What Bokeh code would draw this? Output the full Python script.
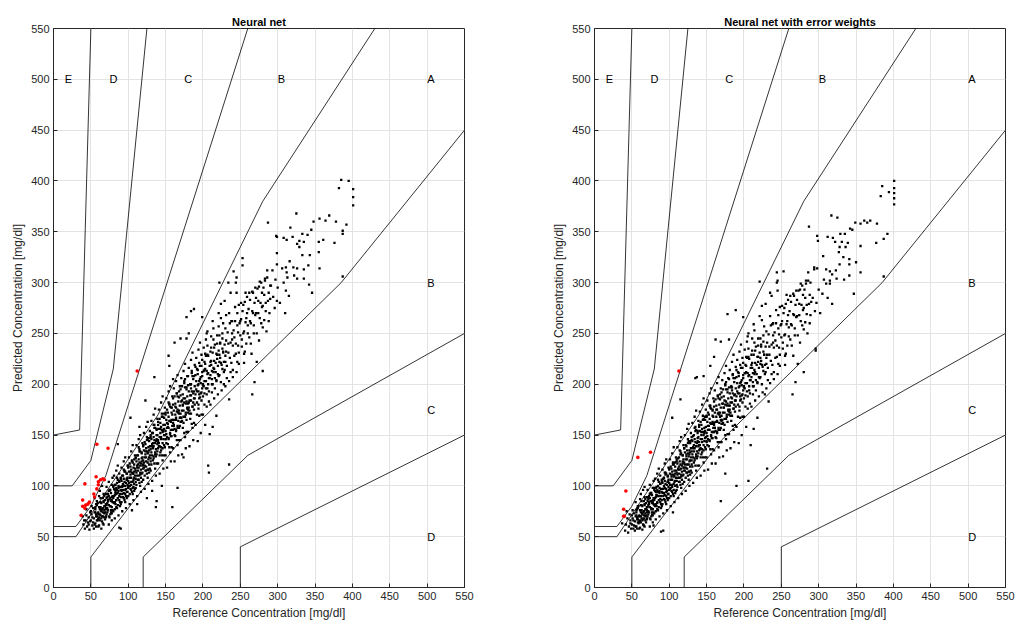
from bokeh.plotting import figure
from bokeh.layouts import row
from bokeh.models import Range1d, FixedTicker, ColumnDataSource
from bokeh.embed import file_html
from bokeh.resources import INLINE
from bokeh.core.properties import value

# ---------------- data ----------------
ticks = [0, 50, 100, 150, 200, 250, 300, 350, 400, 450, 500, 550]

# Parkes (consensus) error grid boundaries, type 1
zone_x = [
    [0, 50, 50, 170, 385, 550],
    [0, 30, 140, 280, 430],
    [120, 120, 260, 550],
    [0, 30, 50, 70, 260],
    [250, 250, 550],
    [0, 25, 50, 80, 125],
    [0, 35, 50],
]
zone_y = [
    [0, 0, 30, 145, 300, 450],
    [50, 50, 170, 380, 550],
    [0, 30, 130, 250],
    [60, 60, 80, 110, 550],
    [0, 40, 150],
    [100, 100, 125, 215, 550],
    [150, 155, 550],
]
zone_labels = ["A", "B", "B", "C", "C", "D", "D", "E"]
zone_label_x = [500, 300, 500, 175, 500, 75, 500, 15]
zone_label_y = [500, 500, 300, 500, 175, 500, 50, 500]

titles = ["Neural net", "Neural net with error weights"]

# red points (predictions above the B zone), panel 1 and 2
nn_red = [(112,213),(58,141),(73,137),(42,102),(57,109),(60,104),(63,106),(66,107),(68,106),
          (39,86),(39,80),(42,78),(46,82),(48,84),(54,92),(58,97),(60,101),(37,71),(43,81),(55,89)]
ew_red = [(113,213),(75,133),(58,128),(42,95),(39,77),(39,70),(40,70)]

nn_pts = [
(40,62),(42,58),(43,66),(44,71),(45,60),(46,64),(47,69),(48,57),(49,74),(41,66),(44,77),(47,62),(39,70),(49,65),
(50,66),(51,72),(52,61),(53,78),(54,68),(55,74),(56,63),(57,82),(58,70),(59,66),(50,75),(52,69),(54,58),(56,77),(58,85),(59,73),(53,64),(55,88),(57,60),(51,80),(60,68),(57,72),
(60,72),(61,79),(62,66),(63,84),(64,75),(65,70),(66,88),(67,62),(68,80),(69,74),(61,90),(62,77),(63,71),(64,83),(65,65),(66,78),(67,92),(68,69),(69,86),(60,60),(62,95),(64,58),(66,74),(68,76),(70,82),(63,79),(65,100),(67,84),(69,67),(61,69),
(70,78),(71,88),(72,74),(73,92),(74,81),(75,69),(76,96),(77,85),(78,79),(79,90),(70,70),(71,99),(72,83),(73,76),(74,104),(75,87),(76,72),(77,93),(78,66),(79,84),(70,92),(72,89),(74,62),(76,80),(78,101),(73,86),(75,95),(77,76),(79,108),(71,81),(74,90),(78,86),
(80,88),(81,97),(82,84),(83,101),(84,92),(85,78),(86,106),(87,95),(88,86),(89,99),(80,75),(81,110),(82,91),(83,82),(84,115),(85,96),(86,88),(87,71),(88,104),(89,92),(80,100),(82,68),(84,86),(86,120),(88,59),(90,58),(83,93),(85,108),(87,100),(89,84),(81,90),(86,141),(84,98),(88,112),(82,96),
(90,96),(91,105),(92,92),(93,110),(94,100),(95,86),(96,114),(97,103),(98,94),(99,108),(90,82),(91,118),(92,99),(93,89),(94,124),(95,104),(96,96),(97,78),(98,112),(99,101),(90,108),(92,75),(94,93),(96,128),(98,88),(93,102),(95,115),(97,97),(99,120),(91,95),(94,107),(96,84),(98,106),(100,98),
(100,105),(101,114),(102,100),(103,119),(104,108),(105,94),(106,123),(107,112),(108,102),(109,117),(100,90),(101,128),(102,108),(103,97),(104,134),(105,113),(106,104),(107,86),(108,121),(109,110),(100,118),(102,82),(104,101),(106,140),(108,95),(103,111),(105,125),(107,106),(109,130),(101,103),(104,116),(106,92),(108,114),(110,107),(103,167),(105,76),(107,99),
(110,115),(111,124),(112,110),(113,130),(114,118),(115,103),(116,134),(117,122),(118,112),(119,128),(110,98),(111,140),(112,118),(113,106),(114,146),(115,123),(116,113),(117,94),(118,132),(119,120),(110,128),(112,90),(114,110),(116,150),(118,104),(113,121),(115,136),(117,116),(119,142),(111,113),(114,126),(116,100),(118,124),(120,117),(112,82),(115,158),
(120,125),(121,135),(122,120),(123,141),(124,128),(125,112),(126,146),(127,133),(128,121),(129,139),(120,106),(121,152),(122,128),(123,115),(124,158),(125,134),(126,123),(127,102),(128,144),(129,130),(120,139),(122,97),(124,119),(126,163),(128,113),(123,131),(125,148),(127,126),(129,154),(121,123),(124,137),(126,108),(128,135),(130,127),(123,184),(125,88),(127,116),
(130,136),(131,146),(132,130),(133,152),(134,139),(135,122),(136,157),(137,144),(138,131),(139,150),(130,115),(131,164),(132,139),(133,125),(134,170),(135,145),(136,133),(137,110),(138,156),(139,141),(130,150),(132,105),(134,129),(136,176),(138,122),(133,142),(135,160),(137,136),(139,166),(131,133),(134,148),(136,117),(138,146),(140,137),(135,207),(137,79),(138,85),(132,95),
(140,145),(141,156),(142,139),(143,162),(144,148),(145,130),(146,168),(147,154),(148,140),(149,160),(140,122),(141,175),(142,148),(143,133),(144,182),(145,155),(146,142),(147,117),(148,167),(149,150),(140,160),(142,112),(144,138),(146,188),(148,130),(143,152),(145,171),(147,146),(149,177),(141,142),(144,158),(146,125),(148,156),(150,146),(145,100),
(150,154),(151,165),(152,148),(153,172),(154,157),(155,138),(156,178),(157,163),(158,149),(159,170),(150,130),(151,186),(152,157),(153,141),(154,193),(155,164),(156,151),(157,124),(158,177),(159,159),(150,170),(152,118),(154,146),(156,198),(158,138),(153,161),(155,181),(157,155),(159,188),(151,151),(154,168),(156,133),(158,165),(160,155),(155,218),(159,79),(154,228),(160,205),
(160,162),(161,174),(162,156),(163,181),(164,165),(165,145),(166,188),(167,172),(168,157),(169,179),(160,137),(161,196),(162,165),(163,149),(164,203),(165,173),(166,159),(167,130),(168,187),(169,167),(160,180),(162,124),(164,154),(166,209),(168,145),(163,170),(165,191),(167,164),(169,198),(161,159),(164,177),(166,140),(168,174),(170,163),(162,241),(166,98),(170,245),
(170,171),(171,183),(172,164),(173,190),(174,174),(175,152),(176,197),(177,181),(178,165),(179,188),(170,145),(171,206),(172,174),(173,157),(174,213),(175,182),(176,168),(177,137),(178,197),(179,176),(170,189),(172,131),(174,162),(176,220),(178,153),(173,179),(175,201),(177,172),(179,208),(171,167),(174,186),(176,148),(178,183),(180,172),(174,128),(178,245),(178,266),(181,250),
(180,181),(181,193),(182,174),(183,200),(184,184),(185,161),(186,208),(187,191),(188,175),(189,198),(180,153),(181,216),(182,184),(183,166),(184,224),(185,193),(186,178),(187,145),(188,208),(189,186),(180,199),(182,139),(184,171),(186,231),(188,162),(183,189),(185,211),(187,182),(189,219),(181,177),(184,196),(186,157),(188,274),(184,272),
(190,190),(191,203),(192,182),(193,210),(194,193),(195,169),(196,218),(197,201),(198,184),(199,208),(190,160),(191,226),(192,193),(193,144),(194,234),(195,203),(196,187),(197,152),(198,218),(199,196),(190,209),(192,170),(194,180),(196,241),(198,170),(193,199),(195,221),(197,191),(199,266),(200,200),
(200,199),(201,213),(202,191),(203,220),(204,203),(205,178),(206,229),(207,211),(208,193),(209,218),(200,170),(201,236),(202,203),(203,160),(204,244),(205,213),(206,196),(207,120),(208,113),(209,151),(206,252),(202,180),(204,228),(208,206),
(210,209),(211,223),(212,200),(213,231),(214,212),(215,186),(216,239),(217,221),(218,203),(219,229),(210,180),(211,247),(212,213),(213,158),(214,255),(215,223),(216,206),(218,169),(219,240),(212,192),
(220,218),(221,233),(222,209),(223,241),(224,221),(225,194),(226,250),(227,231),(228,212),(229,239),(220,190),(221,257),(222,222),(224,265),(226,215),(228,200),(222,300),(224,279),
(230,228),(231,243),(232,218),(233,251),(234,231),(235,203),(236,260),(237,241),(238,221),(239,250),(230,198),(231,268),(234,300),(235,185),(235,121),(237,212),(239,262),
(240,238),(241,253),(242,228),(243,262),(244,240),(245,212),(246,270),(247,251),(248,231),(249,260),(240,207),(241,311),(244,300),(245,290),(246,222),(248,278),
(250,248),(251,264),(252,237),(253,272),(254,250),(255,221),(256,281),(257,261),(258,240),(259,270),(253,324),(253,317),(255,230),(257,290),
(260,258),(261,274),(262,246),(263,283),(264,260),(265,230),(266,190),(266,291),(267,270),(268,250),(269,202),(269,280),
(270,268),(271,285),(272,222),(273,294),(274,270),(275,243),(276,301),(277,280),(278,260),(279,290),(280,213),
(280,277),(281,295),(282,263),(283,304),(284,280),(285,252),(287,359),(286,312),(288,290),(289,270),(290,297),(291,297),
(293,312),(297,303),(299,318),(299,329),(299,345),(298,346),(300,295),(299,282),(294,286),(296,275),
(308,344),(312,342),(320,345),(317,354),(329,341),(326,338),(329,335),(335,340),(361,342),(355,340),(376,339),(355,330),(343,327),(333,327),(316,321),(306,314),(311,315),(321,315),(326,314),(335,313),(341,317),(356,314),(312,310),(313,305),(326,304),(335,304),(322,307),(308,300),(342,298),(346,290),(311,292),(315,287),(387,306),(325,368),(369,366),(364,361),(356,363),(378,360),(348,360),(392,357),(387,351),(387,348),(333,348),(345,352),(340,347),(385,401),(395,400),(382,393),(401,392),(401,384),(401,376),(303,280),(310,270),
# dense core
(55,62),(56,79),(57,70),(58,66),(59,83),(60,74),(61,61),(62,72),(63,88),(64,68),(65,77),(66,63),(67,85),(68,73),(69,80),(70,69),(56,74),(58,81),(60,67),(62,84),(64,76),(66,70),(68,90),(70,77),
(71,72),(72,92),(73,85),(74,70),(75,96),(76,80),(77,74),(78,89),(79,76),(80,99),(81,83),(82,77),(83,94),(84,86),(85,103),(86,81),(87,98),(88,90),(89,80),(90,107),(72,78),(74,95),(76,88),(78,73),(80,84),(82,101),(84,79),(86,93),(88,105),(90,89),
(91,84),(92,110),(93,96),(94,88),(95,114),(96,100),(97,90),(98,107),(99,94),(100,120),(101,100),(102,92),(103,114),(104,104),(105,124),(106,98),(107,118),(108,108),(109,97),(110,127),(92,100),(94,116),(96,92),(98,112),(100,99),(102,122),(104,96),(106,112),(108,126),(110,104),
(111,101),(112,130),(113,115),(114,106),(115,134),(116,120),(117,108),(118,127),(119,113),(120,140),(121,118),(122,110),(123,134),(124,124),(125,145),(126,116),(127,138),(128,128),(129,117),(130,148),(112,120),(114,138),(116,111),(118,133),(120,121),(122,143),(124,115),(126,132),(128,147),(130,124),
(131,121),(132,152),(133,137),(134,127),(135,157),(136,142),(137,129),(138,150),(139,134),(140,163),(141,139),(142,130),(143,156),(144,146),(145,168),(146,137),(147,160),(148,150),(149,138),(150,172),(132,141),(134,160),(136,131),(138,155),(140,143),(142,166),(144,135),(146,153),(148,171),(150,146),
(151,142),(152,175),(153,158),(154,147),(155,180),(156,164),(157,149),(158,172),(159,155),(160,186),(161,160),(162,150),(163,178),(164,167),(165,191),(166,157),(167,183),(168,171),(169,159),(170,195),(152,162),(154,182),(156,152),(158,177),(160,165),(162,188),(164,155),(166,175),(168,193),(170,167),
(171,163),(172,198),(173,180),(174,168),(175,203),(176,186),(177,170),(178,195),(179,177),(180,208),(181,182),(182,171),(183,200),(184,189),(185,213),(186,178),(187,205),(188,193),(189,180),(190,217),(172,184),(176,205),(180,175),(184,200),(188,186),
(191,195),(193,214),(195,186),(197,207),(199,224),(201,198),(203,215),(205,190),(207,228),(209,206),(211,219),(213,200),(215,236),(217,212),(219,225),(221,208),(223,240),(225,219),(227,232),(229,214),(194,200),(198,192),(202,222),(206,210),(210,232),(214,216),(218,204),(222,229),(226,245),(230,222),
# upper band
(192,215),(194,176),(196,205),(198,229),(200,188),(202,214),(204,196),(206,238),(208,183),(210,222),(212,205),(214,244),(216,196),(218,230),(220,210),(222,248),(224,202),(226,235),(228,222),(230,255),(232,206),(234,240),(236,226),(238,262),(240,214),(242,246),(244,230),(246,258),(248,220),(250,262),(252,244),(254,278),(256,232),(258,265),(260,250),(262,290),(264,240),(266,272),(268,258),(270,295),(272,250),(274,282),(276,265),(278,300),(280,256),(282,288),(284,272),(286,305),(288,262),(290,284),
(195,190),(199,212),(203,230),(207,200),(211,236),(215,215),(219,248),(223,226),(227,260),(231,232),(235,270),(239,244),(243,276),(247,238),(251,280),(255,252),(259,286),(263,262),(267,290),(271,270),(275,296),(279,276),(283,302),(287,282),(205,250),(213,262),(221,270),(229,282),(237,290),(245,305),
]

ew_pts = [
(41,56),(45,54),(37,63),(42,62),(44,68),(46,60),(48,66),(47,72),(49,58),(43,75),(48,63),
(50,62),(51,68),(52,58),(53,73),(54,65),(55,70),(56,60),(57,77),(58,67),(59,63),(50,71),(52,66),(54,56),(56,74),(58,80),(59,70),(53,61),(55,84),(57,58),(51,76),(60,65),(57,69),
(60,70),(61,76),(62,64),(63,81),(64,72),(65,67),(66,85),(67,60),(68,77),(69,71),(61,87),(62,74),(63,68),(64,80),(65,62),(66,75),(67,89),(68,66),(69,83),(60,58),(62,92),(64,57),(66,71),(68,73),(70,79),(63,76),(65,96),(67,81),(69,64),(61,66),(67,99),
(70,76),(71,85),(72,72),(73,90),(74,79),(75,67),(76,93),(77,83),(78,77),(79,88),(70,68),(71,96),(72,81),(73,74),(74,101),(75,85),(76,70),(77,91),(78,64),(79,82),(70,89),(72,87),(74,60),(76,78),(78,98),(73,84),(75,92),(77,74),(79,105),(71,79),(74,88),(78,84),(79,61),
(80,86),(81,95),(82,82),(83,99),(84,90),(85,76),(86,104),(87,93),(88,84),(89,97),(80,73),(81,107),(82,89),(83,80),(84,112),(85,94),(86,86),(87,70),(88,102),(89,90),(80,98),(82,67),(84,84),(86,117),(89,55),(92,56),(83,91),(85,106),(87,98),(89,82),(81,88),(84,96),(88,110),(82,94),
(90,94),(91,103),(92,90),(93,108),(94,98),(95,84),(96,112),(97,101),(98,92),(99,106),(90,80),(91,116),(92,97),(93,87),(94,122),(95,102),(96,94),(97,76),(98,110),(99,99),(90,106),(92,73),(94,91),(96,126),(98,86),(93,100),(95,113),(97,95),(99,118),(91,93),(94,105),(96,82),(98,104),(100,96),
(100,103),(101,112),(102,98),(103,117),(104,106),(105,92),(106,121),(107,110),(108,100),(109,115),(100,88),(101,126),(102,106),(103,95),(104,132),(105,111),(106,102),(107,84),(108,119),(109,108),(100,116),(102,80),(104,99),(106,138),(108,93),(103,109),(105,123),(107,104),(109,128),(101,101),(104,114),(106,90),(108,112),(110,105),(104,167),(105,74),
(110,113),(111,122),(112,108),(113,128),(114,116),(115,101),(116,132),(117,120),(118,110),(119,126),(110,96),(111,138),(112,116),(113,104),(114,144),(115,121),(116,111),(117,92),(118,130),(119,118),(110,126),(112,88),(114,108),(116,148),(118,102),(113,119),(115,134),(117,114),(119,140),(111,111),(114,124),(116,98),(118,122),(120,115),(115,185),
(120,123),(121,133),(122,118),(123,139),(124,126),(125,110),(126,144),(127,131),(128,119),(129,137),(120,104),(121,150),(122,126),(123,113),(124,156),(125,132),(126,121),(127,100),(128,142),(129,128),(120,137),(122,95),(124,117),(126,161),(128,111),(123,129),(125,146),(127,124),(129,152),(121,121),(124,135),(126,106),(128,133),(130,125),(127,114),
(130,134),(131,144),(132,128),(133,150),(134,137),(135,120),(136,155),(137,142),(138,129),(139,148),(130,113),(131,162),(132,137),(133,123),(134,168),(135,143),(136,131),(137,108),(138,154),(139,139),(130,148),(132,103),(134,127),(136,174),(138,120),(133,140),(135,158),(137,134),(139,164),(131,131),(134,146),(136,115),(138,144),(140,135),(135,206),(137,207),
(140,143),(141,154),(142,137),(143,160),(144,146),(145,128),(146,166),(147,152),(148,138),(149,158),(140,120),(141,173),(142,146),(143,131),(144,180),(145,153),(146,140),(147,115),(148,165),(149,148),(140,158),(142,110),(144,136),(146,186),(148,128),(143,150),(145,169),(147,144),(149,175),(141,140),(144,156),(146,123),(148,154),(150,144),(146,208),
(150,152),(151,163),(152,146),(153,170),(154,155),(155,136),(156,176),(157,161),(158,147),(159,168),(150,128),(151,184),(152,155),(153,139),(154,191),(155,162),(156,149),(157,122),(158,175),(159,157),(150,168),(152,116),(154,144),(156,196),(158,136),(153,159),(155,179),(157,153),(159,186),(151,149),(154,166),(156,131),(158,163),(160,153),(155,218),(160,227),
(160,160),(161,172),(162,154),(163,179),(164,163),(165,143),(166,186),(167,170),(168,155),(169,177),(160,135),(161,194),(162,163),(163,147),(164,201),(165,171),(166,157),(167,128),(168,185),(169,165),(160,178),(162,122),(164,152),(166,207),(168,143),(163,168),(165,189),(167,162),(169,196),(161,157),(164,175),(166,138),(168,172),(170,161),(162,244),(169,242),(169,85),
(170,169),(171,181),(172,162),(173,188),(174,172),(175,150),(176,195),(177,179),(178,163),(179,186),(170,143),(171,204),(172,172),(173,155),(174,211),(175,180),(176,166),(177,135),(178,195),(179,174),(170,187),(172,129),(174,160),(176,218),(178,151),(173,177),(175,199),(177,170),(179,206),(171,165),(174,184),(176,146),(178,181),(180,170),(175,112),(178,269),(180,244),
(180,179),(181,191),(182,172),(183,198),(184,182),(185,159),(186,206),(187,189),(188,173),(189,196),(180,151),(181,214),(182,182),(183,164),(184,222),(185,191),(186,176),(187,143),(188,206),(189,184),(180,197),(182,137),(184,169),(186,229),(188,160),(183,187),(185,209),(187,180),(189,217),(181,175),(184,194),(186,155),(189,273),(190,100),
(190,188),(191,201),(192,180),(193,208),(194,191),(195,167),(196,216),(197,199),(198,182),(199,206),(190,158),(191,224),(192,191),(193,142),(194,232),(195,201),(196,185),(197,150),(198,216),(199,194),(190,207),(192,168),(194,178),(196,239),(198,168),(193,197),(195,219),(197,189),(199,266),(200,198),
(200,197),(201,211),(202,189),(203,218),(204,201),(205,176),(206,227),(207,209),(208,191),(209,216),(200,168),(201,234),(202,201),(203,158),(204,242),(205,211),(206,105),(209,140),(207,194),(206,250),(202,178),(204,226),(208,204),
(210,207),(211,221),(212,198),(213,229),(214,210),(215,184),(216,237),(217,219),(218,201),(219,227),(210,178),(211,245),(212,211),(213,156),(214,253),(215,221),(216,204),(218,167),(219,238),(212,190),
(220,216),(221,231),(222,207),(223,239),(224,219),(225,192),(226,248),(227,229),(228,210),(229,237),(220,188),(221,301),(222,220),(224,263),(226,213),(228,190),(224,277),
(230,226),(231,241),(232,216),(233,249),(234,229),(235,201),(236,258),(237,239),(238,219),(239,248),(230,196),(231,117),(235,290),(237,210),(239,260),(233,183),
(240,236),(241,251),(242,226),(243,260),(244,238),(245,210),(246,268),(247,249),(248,229),(249,258),(240,205),(244,310),(244,300),(245,292),(246,220),(248,276),
(250,246),(251,262),(252,235),(253,270),(254,248),(255,219),(256,279),(257,259),(258,238),(259,268),(253,311),(255,228),(257,288),
(260,256),(261,272),(262,244),(263,281),(264,258),(265,190),(266,228),(266,289),(267,268),(268,248),(269,202),(269,278),
(270,266),(271,283),(272,220),(273,292),(274,268),(275,241),(276,299),(277,278),(278,258),(279,288),(280,212),
(280,275),(281,293),(282,261),(283,302),(284,278),(285,250),(287,355),(286,310),(288,288),(289,268),(289,300),(294,315),
(294,313),(298,314),(298,346),(299,341),(296,233),(296,235),(300,293),(297,280),(292,285),(295,272),
(401,400),(401,393),(401,388),(401,383),(401,377),(385,395),(394,389),(383,385),(317,366),(325,364),(349,359),(356,358),(361,361),(365,359),(369,361),(378,358),(342,353),(345,352),(329,348),(335,348),(392,348),(387,343),(312,345),(319,344),(322,340),(331,340),(339,339),(377,339),(328,335),(336,335),(356,336),(306,326),(333,325),(341,323),(327,330),(310,313),(315,311),(323,312),(328,318),(341,318),(350,320),(356,310),(318,308),(341,307),(307,303),(315,302),(324,304),(334,303),(315,299),(310,299),(347,289),(387,306),(312,285),(305,289),(318,279),(302,270),
# dense core
(55,60),(56,76),(57,67),(58,64),(59,80),(60,71),(61,59),(62,70),(63,85),(64,66),(65,74),(66,61),(67,82),(68,70),(69,77),(70,67),(56,71),(58,78),(60,64),(62,81),(64,73),(66,68),(68,87),(70,74),
(71,70),(72,89),(73,82),(74,68),(75,93),(76,77),(77,72),(78,86),(79,74),(80,96),(81,80),(82,75),(83,91),(84,83),(85,100),(86,79),(87,95),(88,87),(89,78),(90,104),(72,75),(74,92),(76,85),(78,71),(80,81),(82,98),(84,77),(86,90),(88,102),(90,86),
(91,82),(92,107),(93,93),(94,86),(95,111),(96,97),(97,88),(98,104),(99,92),(100,117),(101,97),(102,90),(103,111),(104,101),(105,121),(106,96),(107,115),(108,105),(109,95),(110,124),(92,97),(94,113),(96,90),(98,109),(100,96),(102,119),(104,94),(106,109),(108,123),(110,101),
(111,99),(112,127),(113,112),(114,104),(115,131),(116,117),(117,106),(118,124),(119,111),(120,137),(121,115),(122,108),(123,131),(124,121),(125,142),(126,114),(127,135),(128,125),(129,115),(130,145),(112,117),(114,135),(116,109),(118,130),(120,118),(122,140),(124,113),(126,129),(128,144),(130,121),
(131,119),(132,149),(133,134),(134,125),(135,154),(136,139),(137,127),(138,147),(139,132),(140,160),(141,136),(142,128),(143,153),(144,143),(145,165),(146,135),(147,157),(148,147),(149,136),(150,169),(132,138),(134,157),(136,129),(138,152),(140,140),(142,163),(144,133),(146,150),(148,168),(150,143),
(151,140),(152,172),(153,155),(154,145),(155,177),(156,161),(157,147),(158,169),(159,153),(160,183),(161,157),(162,148),(163,175),(164,164),(165,188),(166,155),(167,180),(168,168),(169,157),(170,192),(152,159),(154,179),(156,150),(158,174),(160,162),(162,185),(164,153),(166,172),(168,190),(170,164),
(171,161),(172,195),(173,177),(174,166),(175,200),(176,183),(177,168),(178,192),(179,175),(180,205),(181,179),(182,169),(183,197),(184,186),(185,210),(186,176),(187,202),(188,190),(189,178),(190,214),(172,181),(176,202),(180,173),(184,197),(188,184),
(191,193),(193,211),(195,184),(197,204),(199,221),(201,196),(203,212),(205,188),(207,225),(209,204),(211,216),(213,198),(215,233),(217,210),(219,222),(221,206),(223,237),(225,217),(227,229),(229,212),(194,198),(198,190),(202,219),(206,208),(210,229),(214,214),(218,202),(222,226),(226,242),(230,220),
# upper band
(192,212),(194,174),(196,202),(198,226),(200,186),(202,211),(204,193),(206,235),(208,181),(210,219),(212,202),(214,241),(216,194),(218,227),(220,207),(222,245),(224,200),(226,232),(228,219),(230,252),(232,204),(234,237),(236,223),(238,259),(240,212),(242,243),(244,227),(246,255),(248,218),(250,259),(252,241),(254,275),(256,230),(258,262),(260,247),(262,287),(264,238),(266,269),(268,255),(270,292),(272,248),(274,279),(276,262),(278,297),(280,254),(282,285),(284,269),(286,302),(288,260),(290,281),
(195,188),(199,209),(203,227),(207,198),(211,233),(215,212),(219,245),(223,223),(227,257),(231,229),(235,267),(239,241),(243,273),(247,236),(251,277),(255,249),(259,283),(263,259),(267,287),(271,267),(275,293),(279,273),(283,299),(287,279),(205,247),(213,259),(221,267),(229,279),(237,287),(245,302),
]

FONT = "Liberation Sans"
TXT = "#262626"


def make_panel(title, pts, red, bl, br):
    p = figure(width=508, height=624, output_backend="svg", toolbar_location=None,
               x_range=Range1d(0, 550), y_range=Range1d(0, 550),
               min_border_left=bl, min_border_right=br, min_border_top=28, min_border_bottom=37)
    p.title.text = title
    p.title.align = "center"
    p.title.text_font = FONT
    p.title.text_font_size = "11px"
    p.title.text_font_style = "bold"
    p.title.text_color = "#000000"
    p.title.standoff = 2
    p.outline_line_color = TXT
    p.outline_line_width = 1
    p.background_fill_color = "white"
    p.border_fill_color = "white"
    for ax in (p.xaxis[0], p.yaxis[0]):
        ax.ticker = FixedTicker(ticks=ticks)
        ax.major_label_text_font = FONT
        ax.major_label_text_font_size = "11px"
        ax.major_label_text_color = TXT
        ax.axis_label_text_font = FONT
        ax.axis_label_text_font_size = "12px"
        ax.axis_label_text_font_style = "normal"
        ax.axis_label_text_color = TXT
        ax.axis_line_color = TXT
        ax.major_tick_line_color = TXT
        ax.major_tick_in = 4
        ax.major_tick_out = 0
        ax.minor_tick_line_color = None
        ax.major_label_standoff = 4
        ax.axis_label_standoff = 3
    p.xaxis.axis_label = "Reference Concentration [mg/dl]"
    p.yaxis.axis_label = "Predicted Concentration [mg/dl]"
    p.xaxis.major_label_standoff = 4
    p.xaxis.axis_label_standoff = 3
    p.grid.ticker = FixedTicker(ticks=ticks)
    p.grid.grid_line_color = "#e3e3e3"
    p.grid.grid_line_width = 1

    for zx, zy in zip(zone_x, zone_y):
        p.line(zx, zy, line_color="black", line_width=0.8)

    src = ColumnDataSource(dict(x=[q[0] for q in pts], y=[q[1] for q in pts]))
    p.scatter("x", "y", source=src, marker="square", size=2.3,
              fill_color="black", line_color=None)
    rsrc = ColumnDataSource(dict(x=[q[0] for q in red], y=[q[1] for q in red]))
    p.scatter("x", "y", source=rsrc, marker="circle", size=3.6,
              fill_color="#ff0000", line_color=None)

    lsrc = ColumnDataSource(dict(x=zone_label_x, y=zone_label_y, t=zone_labels))
    p.text("x", "y", text="t", source=lsrc, text_font=value(FONT), text_font_size="11px",
           text_color="#000000", text_align="left", text_baseline="middle")
    return p


p1 = make_panel(titles[0], nn_pts, nn_red, 53, 44)
p2 = make_panel(titles[1], ew_pts, ew_red, 86, 11)
layout = row(p1, p2)

open("out.html", "w").write(file_html(layout, INLINE))
